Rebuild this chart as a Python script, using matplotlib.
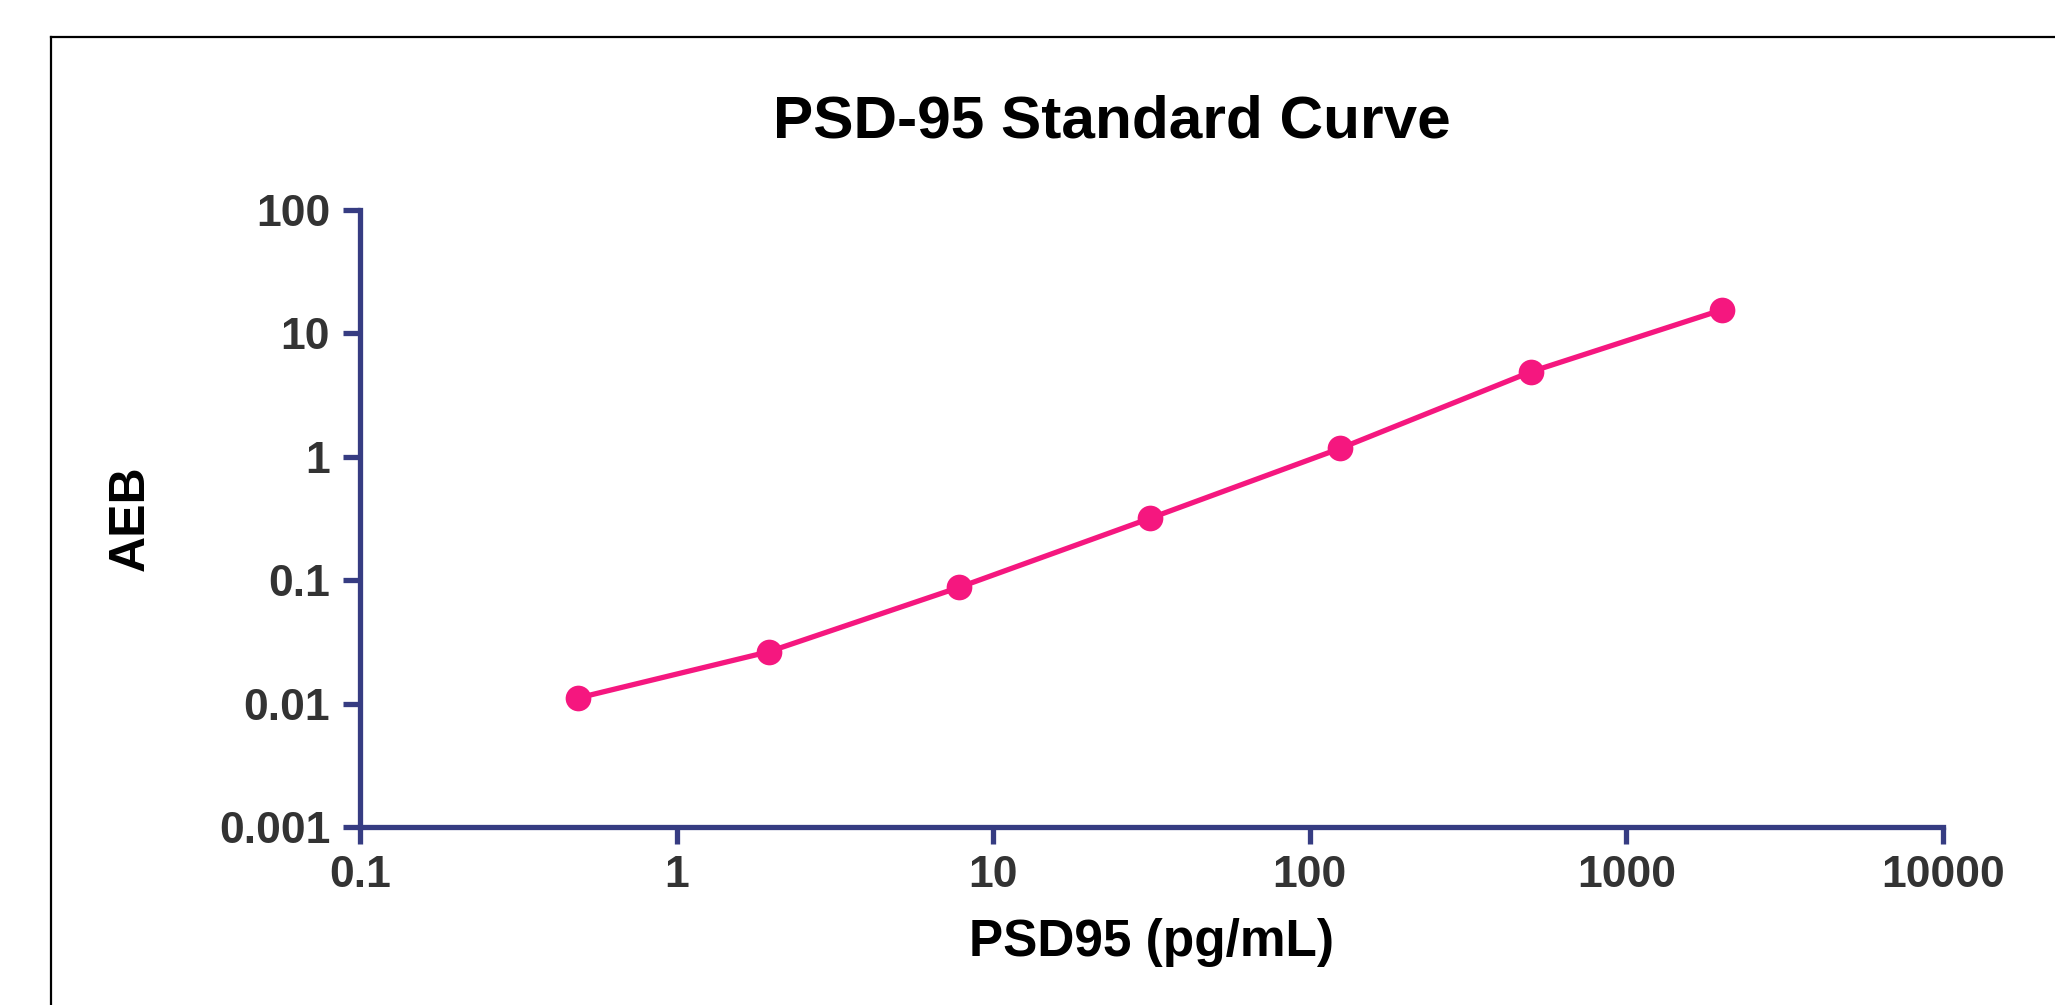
import matplotlib
matplotlib.use("Agg")
import matplotlib.pyplot as plt
from matplotlib.lines import Line2D
from matplotlib.ticker import FixedLocator, FixedFormatter, NullLocator

plt.rcParams['font.family'] = ['Liberation Sans', 'DejaVu Sans']

# Data
concentration = [0.488, 1.953, 7.8125, 31.25, 125, 500, 2000]
aeb = [0.0111, 0.0263, 0.0876, 0.317, 1.172, 4.89, 15.5]
x_ticks = [0.1, 1, 10, 100, 1000, 10000]
x_tick_labels = ["0.1", "1", "10", "100", "1000", "10000"]
y_ticks = [0.001, 0.01, 0.1, 1, 10, 100]
y_tick_labels = ["0.001", "0.01", "0.1", "1", "10", "100"]

W, H = 2055, 1005
fig = plt.figure(figsize=(W / 100, H / 100), dpi=100)
fig.patch.set_facecolor('white')

ax = fig.add_axes([360 / W, 1 - 827 / H, (1943 - 360) / W, (827 - 210) / H])

navy = '#363C82'
pink = '#F5177F'

ax.plot(concentration, aeb, color=pink, lw=3.8, marker='o', ms=18.5,
        markeredgewidth=0, clip_on=False, zorder=3)

ax.set_xscale('log')
ax.set_yscale('log')
ax.set_xlim(0.1, 10000)
ax.set_ylim(0.001, 100)

ax.xaxis.set_major_locator(FixedLocator(x_ticks))
ax.xaxis.set_major_formatter(FixedFormatter(x_tick_labels))
ax.yaxis.set_major_locator(FixedLocator(y_ticks))
ax.yaxis.set_major_formatter(FixedFormatter(y_tick_labels))
ax.xaxis.set_minor_locator(NullLocator())
ax.yaxis.set_minor_locator(NullLocator())

for s in ['top', 'right']:
    ax.spines[s].set_visible(False)
for s in ['left', 'bottom']:
    ax.spines[s].set_color(navy)
    ax.spines[s].set_linewidth(3.8)
    ax.spines[s].set_capstyle('projecting')

ax.tick_params(axis='both', which='major', direction='out', length=12.5,
               width=3.8, color=navy, labelcolor='#333333', labelsize=32)
ax.tick_params(axis='x', pad=8)
ax.tick_params(axis='y', pad=9)
for lab in ax.get_xticklabels() + ax.get_yticklabels():
    lab.set_fontweight('bold')

ax.set_xlabel('PSD95 (pg/mL)', fontsize=37, fontweight='bold', color='black')
ax.set_ylabel('AEB', fontsize=36, fontweight='bold', color='black')
ax.xaxis.set_label_coords(0.5, -0.147)
ax.yaxis.set_label_coords(-0.13, 0.5)

fig.text(1112 / W, 1 - 137 / H, 'PSD-95 Standard Curve', fontsize=43.5,
         fontweight='bold', color='black', ha='center', va='baseline')

# outer frame (left and top edges visible)
x0 = 51 / W
y0 = 1 - 37 / H
fig.add_artist(Line2D([x0, x0], [0, y0], transform=fig.transFigure, color='black', lw=1.6))
fig.add_artist(Line2D([x0, 1], [y0, y0], transform=fig.transFigure, color='black', lw=1.6))

fig.savefig('out.png', dpi=100, facecolor='white')
